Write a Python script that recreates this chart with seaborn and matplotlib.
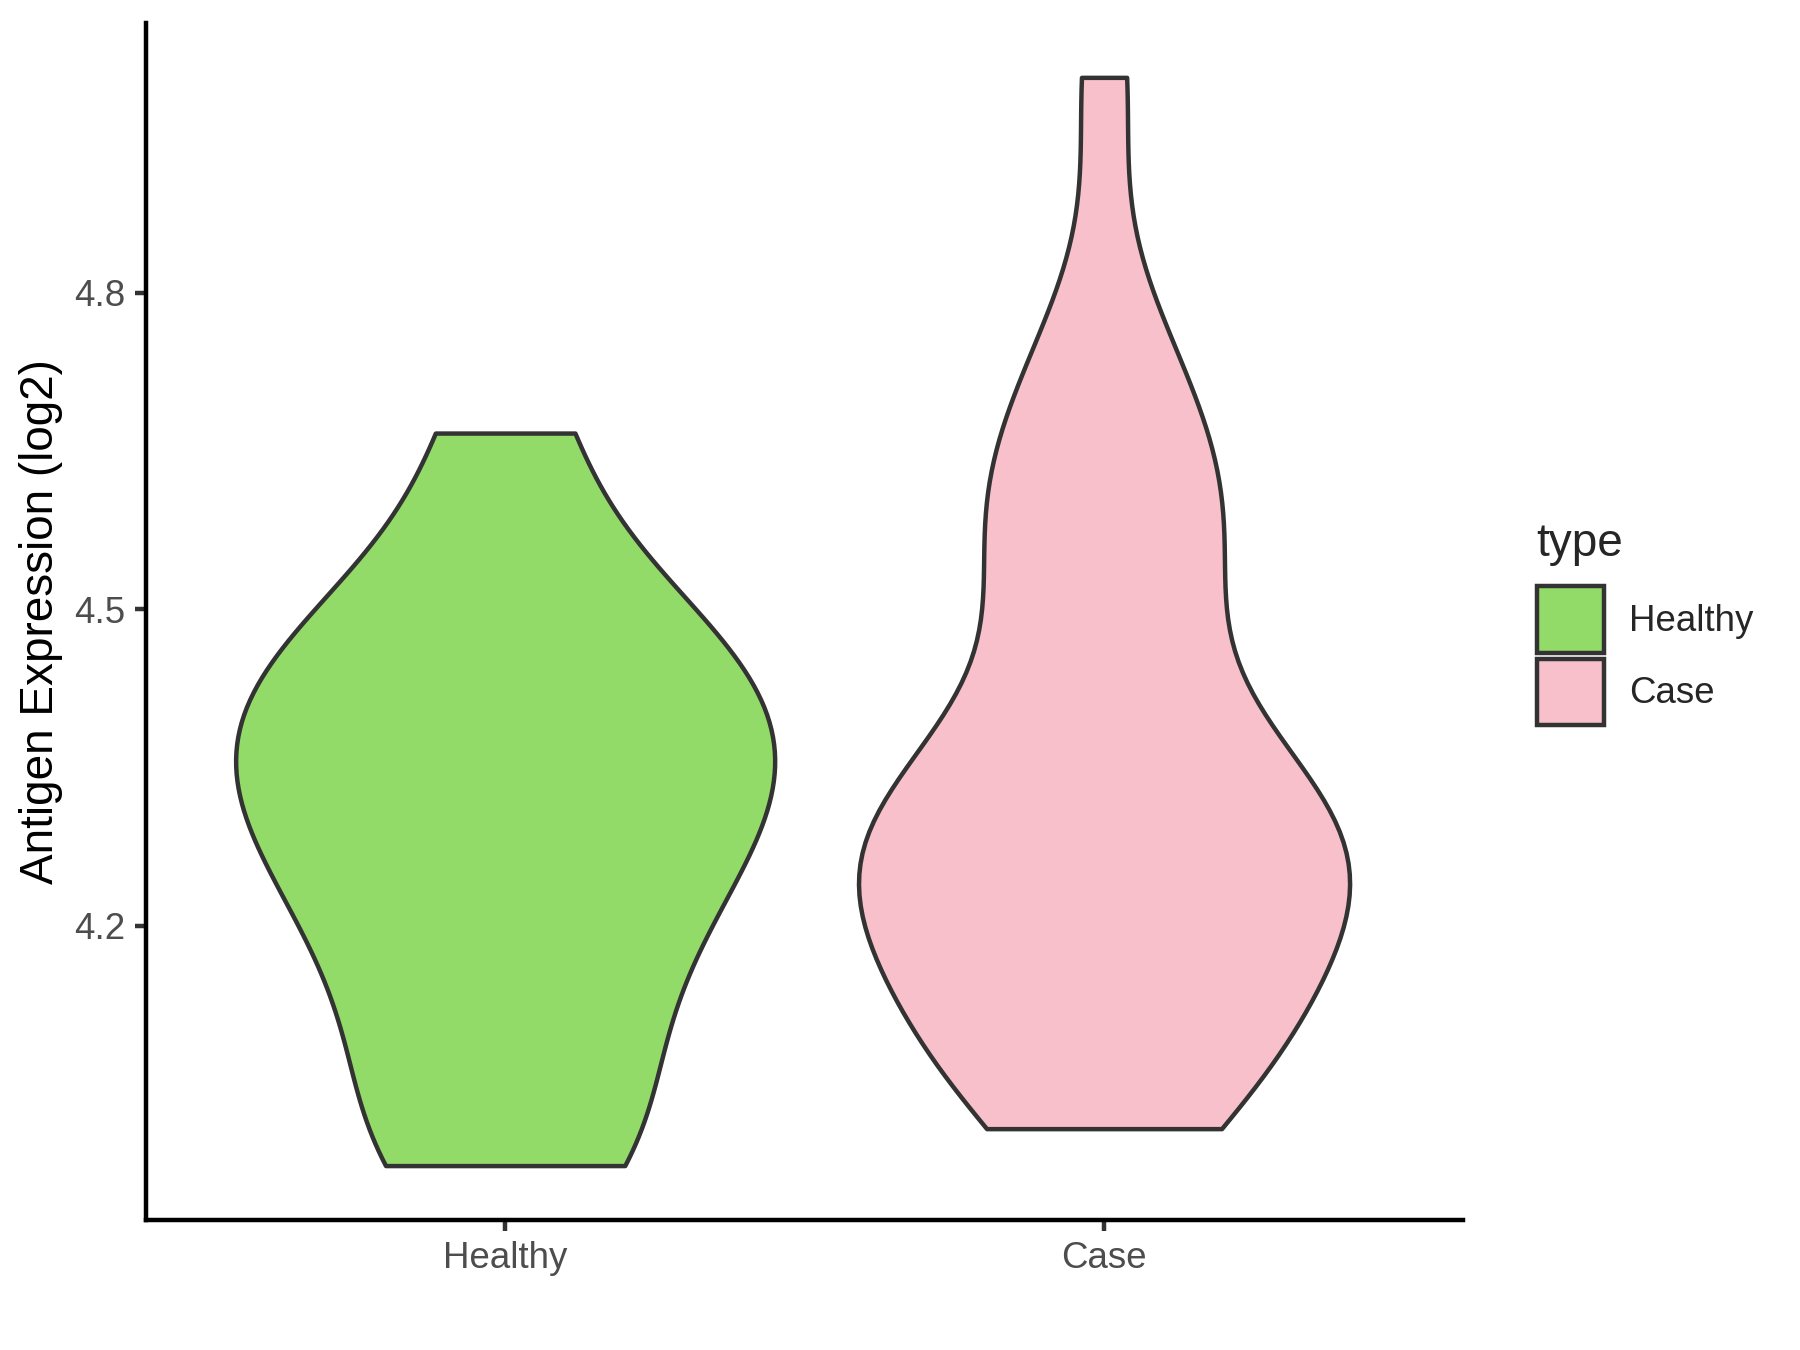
import numpy as np
import pandas as pd
import matplotlib
matplotlib.use("Agg")
import matplotlib.pyplot as plt
import seaborn as sns
from matplotlib.patches import Patch
from matplotlib.legend_handler import HandlerPatch

# expression values per group (log2)
healthy_vals = [3.973, 3.995, 4.10, 4.17, 4.23, 4.28, 4.32, 4.35, 4.39, 4.43, 4.47, 4.51, 4.667]
case_vals = [4.008, 4.035, 4.06, 4.08, 4.10, 4.13, 4.16, 4.195, 4.215, 4.235, 4.245, 4.255, 4.275,
             4.29, 4.30, 4.32, 4.35, 4.38, 4.42, 4.52, 4.55, 4.57, 4.61, 4.66, 4.70, 4.77, 5.004]
groups = ["Healthy", "Case"]
colors = {"Healthy": "#93DB69", "Case": "#F7C0CB"}
y_ticks = [4.2, 4.5, 4.8]

# kde bandwidth (absolute) and max violin width per group
bandwidth = {"Healthy": 0.10, "Case": 0.10}
max_width = {"Healthy": 0.9, "Case": 0.82}

df = pd.DataFrame({
    "type": ["Healthy"] * len(healthy_vals) + ["Case"] * len(case_vals),
    "value": healthy_vals + case_vals,
})

sns.set_style("ticks")
plt.rcParams["font.family"] = ["Liberation Sans", "DejaVu Sans"]
LW = 1.07

fig = plt.figure(figsize=(6, 4.5), dpi=300)
ax = fig.add_axes([0.081, 0.0963, 0.732, 0.8867])

for g in groups:
    sub = df[df["type"] == g]
    factor = bandwidth[g] / sub["value"].std()
    sns.violinplot(data=sub, x="type", y="value", hue="type", order=groups,
                   hue_order=groups, palette=colors, cut=0, inner=None,
                   density_norm="width", width=max_width[g], bw_method=factor,
                   linewidth=LW, linecolor="#333333", saturation=1,
                   legend=False, ax=ax)

ymin = min(df["value"]); ymax = max(df["value"])
pad = 0.05 * (ymax - ymin)
ax.set_ylim(ymin - pad, ymax + pad)
ax.set_xlim(-0.6, 1.6)
ax.set_yticks(y_ticks)
ax.set_yticklabels([f"{t:.1f}" for t in y_ticks])

ax.set_xlabel("")
ax.set_ylabel("Antigen Expression (log2)", fontsize=11, color="black", labelpad=2.6)
ax.tick_params(axis="both", labelsize=8.8, labelcolor="#4D4D4D", color="#333333",
               length=2.75, width=LW, pad=2.2)
for s in ["top", "right"]:
    ax.spines[s].set_visible(False)
for s in ["left", "bottom"]:
    ax.spines[s].set_color("black")
    ax.spines[s].set_linewidth(LW)


def full_key(legend, orig_handle, xdescent, ydescent, width, height, fontsize):
    return plt.Rectangle((-xdescent, -ydescent), width, height)


handles = [Patch(facecolor=colors[g], edgecolor="#333333", linewidth=LW, label=g) for g in groups]
leg = fig.legend(handles=handles, title="type", loc="center left", bbox_to_anchor=(0.8435, 0.538),
                 frameon=False, fontsize=8.8, title_fontsize=11, handlelength=1.83,
                 handleheight=2.42, labelspacing=0.16, handletextpad=0.68, borderpad=0,
                 alignment="left", handler_map={Patch: HandlerPatch(patch_func=full_key)})
leg._legend_box.sep = 4.8

fig.savefig("out.png", dpi=300)
